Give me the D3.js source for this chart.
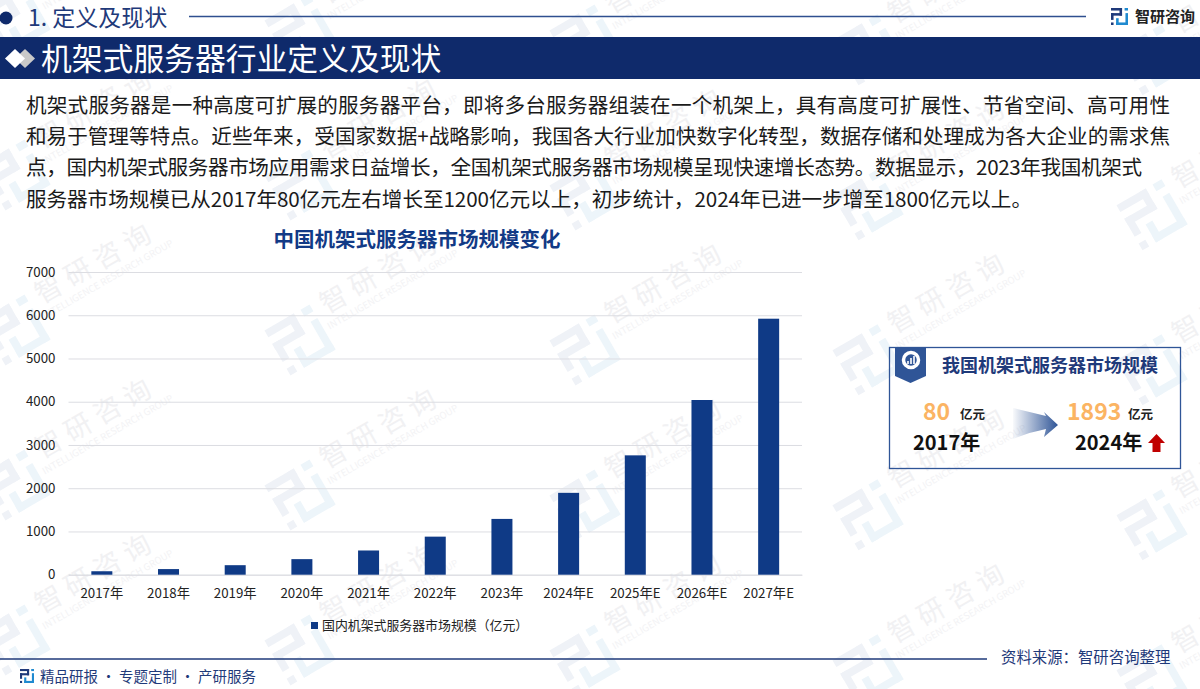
<!DOCTYPE html>
<html>
<head>
<meta charset="utf-8">
<script src="https://cdn.jsdelivr.net/npm/d3@7"></script>
<style>
html, body { margin: 0; padding: 0; background: #fff; }
svg { display: block; }
text { font-family: "Noto Sans CJK SC", "Noto Sans", sans-serif; }
</style>
</head>
<body>
<svg id="chart"></svg>
<script>
const years = ['2017年', '2018年', '2019年', '2020年', '2021年', '2022年', '2023年', '2024年E', '2025年E', '2026年E', '2027年E'];
const marketSize = [80, 130, 220, 360, 560, 880, 1290, 1893, 2760, 4040, 5920];
const yTicks = [0, 1000, 2000, 3000, 4000, 5000, 6000, 7000];
const paragraphLines = [
  '机架式服务器是一种高度可扩展的服务器平台，即将多台服务器组装在一个机架上，具有高度可扩展性、节省空间、高可用性',
  '和易于管理等特点。近些年来，受国家数据+战略影响，我国各大行业加快数字化转型，数据存储和处理成为各大企业的需求焦',
  '点，国内机架式服务器市场应用需求日益增长，全国机架式服务器市场规模呈现快速增长态势。数据显示，2023年我国机架式',
  '服务器市场规模已从2017年80亿元左右增长至1200亿元以上，初步统计，2024年已进一步增至1800亿元以上。'
];

const width = 1200;
const height = 689;
const navy = '#0f2a6b';
const barBlue = '#0f3a86';

const svg = d3.select('#chart').attr('width', width).attr('height', height);

const defs = svg.append('defs');
const arrowGrad = defs.append('linearGradient').attr('id', 'arrowGrad');
arrowGrad.append('stop').attr('offset', '0%').attr('stop-color', '#2f5597').attr('stop-opacity', 0.03);
arrowGrad.append('stop').attr('offset', '100%').attr('stop-color', '#2f5597');

// the company logo, used small in the header/footer and big in the watermark
function logo(g, s, c1, c2) {
  const bars = [
    [0, 0, 13, 3, c1], [10, 0, 3, 9, c1], [0, 6, 13, 3, c1], [0, 6, 3, 8, c1], [0, 17, 3, 3, c1],
    [16, 0, 4, 3, c2], [17, 6, 3, 14, c2], [6, 17, 14, 3, c2], [6, 12, 3, 8, c2]
  ];
  g.selectAll('rect.lg').data(bars).join('rect').attr('class', 'lg')
    .attr('x', d => d[0] * s).attr('y', d => d[1] * s)
    .attr('width', d => d[2] * s).attr('height', d => d[3] * s)
    .attr('fill', d => d[4]);
}

// watermark, drawn first so everything else sits on top
const wm = svg.append('g');
const wmCols = [15, 300, 585, 868, 1152];
const wmRows = [20, 175, 330, 485, 640];
wmCols.forEach(cx => {
  wmRows.forEach(ry => {
    const cy = ry + (cx - 15) * 0.035;
    const g = wm.append('g').attr('transform', `translate(${cx},${cy}) rotate(-30)`);
    logo(g.append('g').attr('transform', 'translate(-26,-26)'), 2.6, '#eff2f7', '#edf5fa');
    g.append('text').attr('x', 36).attr('y', -9).attr('font-size', 27).attr('letter-spacing', 7)
      .attr('fill', '#f1f1f3').text('智研咨询');
    g.append('text').attr('x', 31).attr('y', 6).attr('font-size', 9.5)
      .attr('fill', '#f3f3f5').text('INTELLIGENCE RESEARCH GROUP');
  });
});

// top header
svg.append('circle').attr('cx', 6).attr('cy', 18).attr('r', 6.5).attr('fill', navy);
svg.append('text').attr('x', 28).attr('y', 26).attr('font-size', 23).attr('fill', '#1f3a7a').text('1. 定义及现状');
svg.append('line').attr('x1', 189).attr('x2', 1086).attr('y1', 16.5).attr('y2', 16.5)
  .attr('stroke', '#2f4f8f').attr('stroke-width', 1.5);
logo(svg.append('g').attr('transform', 'translate(1111,8)'), 0.85, '#1f3a7a', '#1f8ad0');
svg.append('text').attr('x', 1135).attr('y', 22).attr('font-size', 15).attr('font-weight', 700)
  .attr('fill', '#222').text('智研咨询');

// title banner
svg.append('rect').attr('x', 0).attr('y', 37).attr('width', width).attr('height', 42).attr('fill', navy);
svg.append('path').attr('d', 'M19,49 L29,58.5 L19,68 L9,58.5 Z').attr('fill', '#c9c9c9').attr('transform', 'translate(6,0)');
svg.append('path').attr('d', 'M15,49 L25,58.5 L15,68 L5,58.5 Z').attr('fill', '#fff');
svg.append('text').attr('x', 41).attr('y', 70).attr('font-size', 30.8).attr('fill', '#fff').text('机架式服务器行业定义及现状');

// paragraph, each line stretched to the width it has in the picture
const lineWidths = [1144, 1144, 1116, 1006];
svg.append('g').selectAll('text').data(paragraphLines).join('text')
  .attr('x', 26).attr('y', (d, i) => 113 + i * 31.2)
  .attr('textLength', (d, i) => lineWidths[i]).attr('lengthAdjust', 'spacing')
  .attr('font-size', 20.6).attr('fill', '#1a1a1a').text(d => d);

// bar chart
const xScale = d3.scaleBand().domain(years).range([68.5, 802]).paddingInner(0.685).paddingOuter(0.3425);
const yScale = d3.scaleLinear().domain([0, 7000]).range([574.7, 272]);

svg.append('text').attr('x', 417).attr('y', 247).attr('text-anchor', 'middle')
  .attr('font-size', 20.5).attr('font-weight', 700).attr('fill', '#123a86').text('中国机架式服务器市场规模变化');

const yAxis = d3.axisLeft(yScale).tickValues(yTicks).tickFormat(d3.format('d')).tickSize(-(802 - 68.5)).tickPadding(13);
const yG = svg.append('g').attr('transform', 'translate(68.5,0)').call(yAxis);
yG.select('.domain').remove();
yG.selectAll('.tick line').attr('stroke', '#dcdde2').attr('stroke-width', 1);
yG.selectAll('.tick text').attr('font-size', 13.3).attr('fill', '#222');

const xAxis = d3.axisBottom(xScale).tickSize(0).tickPadding(14);
const xG = svg.append('g').attr('transform', 'translate(0,574.7)').call(xAxis);
xG.select('.domain').attr('stroke', '#dcdde2');
xG.selectAll('.tick text').attr('font-size', 13.3).attr('fill', '#222');

svg.append('g').selectAll('rect').data(marketSize).join('rect')
  .attr('x', (d, i) => xScale(years[i]))
  .attr('y', d => yScale(d))
  .attr('width', xScale.bandwidth())
  .attr('height', d => yScale(0) - yScale(d))
  .attr('fill', barBlue);

// legend
svg.append('rect').attr('x', 311).attr('y', 622).attr('width', 7).attr('height', 7).attr('fill', barBlue);
svg.append('text').attr('x', 322).attr('y', 630).attr('font-size', 12.9).attr('fill', '#222')
  .text('国内机架式服务器市场规模（亿元）');

// callout box
svg.append('rect').attr('x', 889.5).attr('y', 347.5).attr('width', 291).attr('height', 121)
  .attr('fill', 'none').attr('stroke', '#2f5597').attr('stroke-width', 1.3);
svg.append('path').attr('d', 'M895,347 H926 V376 L910.5,383 L895,376 Z').attr('fill', '#2f5597');
svg.append('circle').attr('cx', 911).attr('cy', 360).attr('r', 7.5).attr('fill', 'none').attr('stroke', '#fff').attr('stroke-width', 3.5);
svg.append('path').attr('d', 'M908,364 V361 M911,364 V358 M914,364 V356').attr('stroke', '#fff').attr('stroke-width', 1.6);
svg.append('text').attr('x', 942).attr('y', 372).attr('font-size', 18).attr('font-weight', 700)
  .attr('fill', '#1f3a7a').text('我国机架式服务器市场规模');

svg.append('text').attr('x', 923).attr('y', 420).attr('font-size', 23).attr('font-weight', 700).attr('fill', '#fbb463').text('80');
svg.append('text').attr('x', 960).attr('y', 419).attr('font-size', 12.5).attr('font-weight', 700).attr('fill', '#222').text('亿元');
svg.append('text').attr('x', 1067).attr('y', 420).attr('font-size', 23).attr('font-weight', 700).attr('fill', '#fbb463').text('1893');
svg.append('text').attr('x', 1128).attr('y', 419).attr('font-size', 12.5).attr('font-weight', 700).attr('fill', '#222').text('亿元');
svg.append('text').attr('x', 913).attr('y', 450).attr('font-size', 20).attr('font-weight', 700).attr('fill', '#111').text('2017年');
svg.append('text').attr('x', 1075).attr('y', 450).attr('font-size', 20).attr('font-weight', 700).attr('fill', '#111').text('2024年');

svg.append('path').attr('d', 'M1013,408 Q1030,412 1046,416 L1044,412 L1058,425 L1044,437 L1046,429 Q1030,432 1013,439 Z')
  .attr('fill', 'url(#arrowGrad)');
svg.append('path').attr('d', 'M1156.5,434 L1165,443 H1160.5 V452 H1152.5 V443 H1148 Z').attr('fill', '#c00000');

// footer
svg.append('line').attr('x1', 0).attr('x2', 987).attr('y1', 659).attr('y2', 659).attr('stroke', '#1f3a7a').attr('stroke-width', 1.3);
logo(svg.append('g').attr('transform', 'translate(20,669)'), 0.7, '#1f3a7a', '#1f8ad0');
svg.append('text').attr('x', 40).attr('y', 682).attr('font-size', 14.5).attr('fill', '#1f3a7a').text('精品研报 · 专题定制 · 产研服务');
svg.append('text').attr('x', 1001).attr('y', 663).attr('font-size', 15.4).attr('fill', '#1f3a7a').text('资料来源：智研咨询整理');
</script>
</body>
</html>
